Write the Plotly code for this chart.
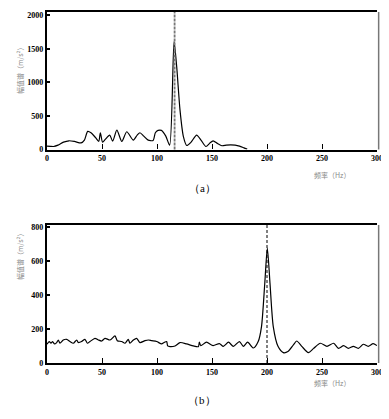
import plotly.graph_objects as go

# ---- data (a) ----
freq_a = [0, 3, 6, 10, 15, 20, 25, 31, 34, 37, 40, 44, 47, 48.5, 50.5, 53, 57, 59.7, 63.5, 68,
          72.5, 78.5, 82, 84.5, 88, 92, 96.5, 98.5, 101, 104, 108, 111.5, 115.5, 117.9, 120.9,
          124, 127, 131, 136, 140, 144.5, 148, 151, 155, 159, 163, 167, 171, 175, 179, 182]
amp_a = [50, 47, 45, 65, 110, 130, 120, 98, 140, 270, 250, 180, 120, 250, 110, 150, 215, 125, 290, 120,
         265, 140, 215, 250, 200, 140, 135, 250, 285, 285, 200, 65, 1610, 1236, 590,
         191, 60, 110, 215, 140, 45, 95, 130, 90, 56, 65, 70, 65, 50, 25, 5]
peak_a = 116

# ---- data (b) ----
freq_b = [0, 2.1, 3.6, 5.1, 6.7, 8.8, 10.3, 11.8, 14.8, 17.9, 20.9, 23.9, 27, 28.5, 31.5, 34.5,
          36.7, 39.1, 43.6, 46.7, 49.7, 52.7, 57.3, 61.8, 63.9, 67.9, 70.9, 73.9, 75.4, 78.5, 81.5,
          84.5, 89.1, 92.1, 95.2, 99.7, 104.2, 106.4, 108.8, 109.7, 111.8, 116.4, 120.9, 126.9,
          133, 137.6, 138.5, 139.8, 145, 151, 156.7, 160.3, 165, 169.4, 174.9, 178.5, 182.4,
          187.6, 192, 195, 198, 200.3, 202.7, 205.7, 210, 214.8, 219, 224, 227, 231.6, 237.6,
          242.4, 248.5, 254.5, 260.6, 265, 269.7, 274, 278.5, 283, 287.6, 292, 296.5, 300]
amp_b = [110, 126, 116, 126, 112, 120, 135, 116, 135, 139, 126, 116, 135, 120, 126, 139,
         116, 126, 145, 135, 129, 145, 135, 159, 131, 126, 116, 139, 116, 135, 145,
         120, 131, 135, 131, 126, 112, 120, 126, 100, 96, 100, 120, 112,
         100, 96, 122, 102, 122, 102, 114, 98, 122, 98, 126, 98, 122,
         88, 126, 214, 470, 675, 470, 214, 98, 61, 67, 106, 129, 98, 61,
         86, 116, 98, 116, 86, 102, 86, 98, 86, 110, 98, 114, 102]
peak_b = 200

x_ticks = [0, 50, 100, 150, 200, 250, 300]
ya_ticks = [0, 500, 1000, 1500, 2000]
yb_ticks = [0, 200, 400, 600, 800]
y_title = "幅值谱（m/s²）"
x_title = "频率（Hz）"
captions = ["（a）", "（b）"]

# page body has an 8px margin, so the figure starts at (8, 8)
OFF = 8
W, H = 389 - OFF, 419 - OFF

def px(x):
    return (x - OFF) / W

def py(y):
    return 1 - (y - OFF) / H

tickfont = dict(family="Liberation Serif", size=8, color="black", weight="bold")

fig = go.Figure()
fig.add_trace(go.Scatter(x=freq_a, y=amp_a, mode="lines", xaxis="x", yaxis="y",
                         line=dict(color="black", width=1.2, shape="spline", smoothing=0.7),
                         showlegend=False))
fig.add_trace(go.Scatter(x=freq_b, y=amp_b, mode="lines", xaxis="x2", yaxis="y2",
                         line=dict(color="black", width=1.2, shape="spline", smoothing=0.7),
                         showlegend=False))

xd = [px(47), px(377)]
ya_dom = [py(149.5), py(12)]
yb_dom = [py(363), py(225)]

def xaxis(anchor):
    return dict(domain=xd, range=[0, 300], anchor=anchor, tickvals=x_ticks, automargin=False,
                showline=True, linecolor="black", linewidth=2.2, mirror=True,
                ticks="inside", ticklen=5, tickwidth=1, tickcolor="black",
                showgrid=False, zeroline=False, tickfont=tickfont, fixedrange=True)

def yaxis(anchor, dom, rng, tv):
    return dict(domain=dom, range=rng, anchor=anchor, tickvals=tv, automargin=False,
                showline=True, linecolor="black", linewidth=2.2,
                ticks="inside", ticklen=3, tickwidth=2, tickcolor="black",
                showgrid=False, zeroline=False, tickfont=tickfont, fixedrange=True)

fig.update_layout(
    width=W, height=H, margin=dict(l=0, r=0, t=0, b=0, autoexpand=False),
    paper_bgcolor="white", plot_bgcolor="white",
    xaxis=xaxis("y"), yaxis=yaxis("x", ya_dom, [0, 2050], ya_ticks),
    xaxis2=xaxis("y2"), yaxis2=yaxis("x2", yb_dom, [0, 810], yb_ticks),
)

# right borders (thin gray) and dashed peak lines
for xr, yr in [("x", "y"), ("x2", "y2")]:
    fig.add_shape(type="line", xref=xr + " domain", yref=yr + " domain", x0=1.005, x1=1.005, y0=0, y1=1,
                  line=dict(color="#777", width=1.5))
fig.add_shape(type="line", xref="x", yref="y domain", x0=peak_a, x1=peak_a, y0=0, y1=1,
              line=dict(color="#777", width=1.8, dash="3px,1px"))
fig.add_shape(type="line", xref="x2", yref="y2 domain", x0=peak_b, x1=peak_b, y0=0, y1=1,
              line=dict(color="black", width=1, dash="3px,2px"))

ann_font = dict(family="Noto Sans CJK SC", size=7, color="#888")
for yc, xl_y, cap_y, cap in [(42, 175, 188, captions[0]), (255, 390, 408, captions[1])]:
    fig.add_annotation(xref="paper", yref="paper", x=px(13), y=py(yc), text=y_title,
                       textangle=-90, showarrow=False, font=ann_font)
    fig.add_annotation(xref="paper", yref="paper", x=px(352), y=py(xl_y), text=x_title,
                       showarrow=False, font=ann_font)
    fig.add_annotation(xref="paper", yref="paper", x=px(202), y=py(cap_y), text=cap,
                       showarrow=False, font=dict(family="Liberation Serif", size=11, color="black"))

fig.write_html("out.html")
